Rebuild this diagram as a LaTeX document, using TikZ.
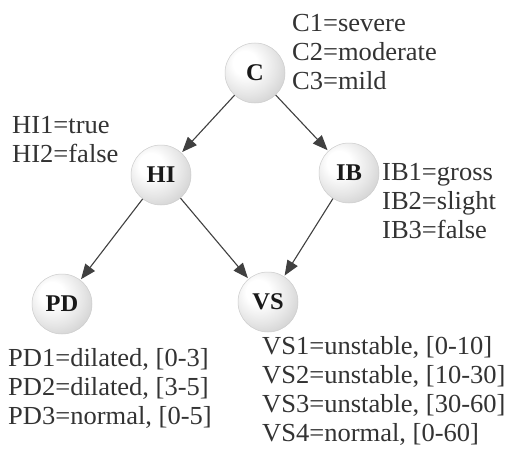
\documentclass[tikz,border=0pt]{standalone}
\usepackage{fontspec}
\setmainfont[FakeStretch=1.02]{Liberation Serif}
\usetikzlibrary{arrows.meta}
\pgfdeclareradialshading{sphereshade}{\pgfpoint{-10bp}{10bp}}{%
  color(0bp)=(white);
  color(10bp)=(white);
  color(24bp)=(white!90!black);
  color(36bp)=(white!80!black);
  color(46bp)=(white!66!black);
  color(54bp)=(white!42!black);
  color(62bp)=(white!50!black)}
\begin{document}
\begin{tikzpicture}[x=1pt,y=-1pt,
  sphere/.style={circle, minimum size=60pt, inner sep=0pt, shading=sphereshade,
    draw=black!20, line width=0.5pt,
    font=\fontsize{24}{26}\selectfont\bfseries, text=black!90},
  lbl/.style={anchor=west, align=left, inner sep=0pt, text=black!80,
    font=\fontsize{26}{29}\selectfont},
  arr/.style={draw=black!75, line width=1.1pt, -{Triangle[length=15pt,width=12pt]}, shorten >=1pt}
]
\useasboundingbox (0,0) rectangle (506,452);
\fill[white] (0,0) rectangle (506,452);

\node[sphere] (C)  at (255,73)  {C};
\node[sphere] (HI) at (161,175) {HI};
\node[sphere] (IB) at (349,173) {IB};
\node[sphere] (PD) at (62,304)  {PD};
\node[sphere] (VS) at (268,302) {VS};

\draw[arr] (C) -- (HI);
\draw[arr] (C) -- (IB);
\draw[arr] (HI) -- (PD);
\draw[arr] (HI) -- (VS);
\draw[arr] (IB) -- (VS);

\node[lbl] (Clab)  at (292,52)  {C1=severe\\C2=moderate\\C3=mild};
\node[lbl] (HIlab) at (12,140)  {HI1=true\\HI2=false};
\node[lbl] (IBlab) at (382,201) {IB1=gross\\IB2=slight\\IB3=false};
\node[lbl] (PDlab) at (8,388)   {PD1=dilated, [0-3]\\PD2=dilated, [3-5]\\PD3=normal, [0-5]};
\node[lbl] (VSlab) at (262,391) {VS1=unstable, [0-10]\\VS2=unstable, [10-30]\\VS3=unstable, [30-60]\\VS4=normal, [0-60]};
\end{tikzpicture}
\end{document}
